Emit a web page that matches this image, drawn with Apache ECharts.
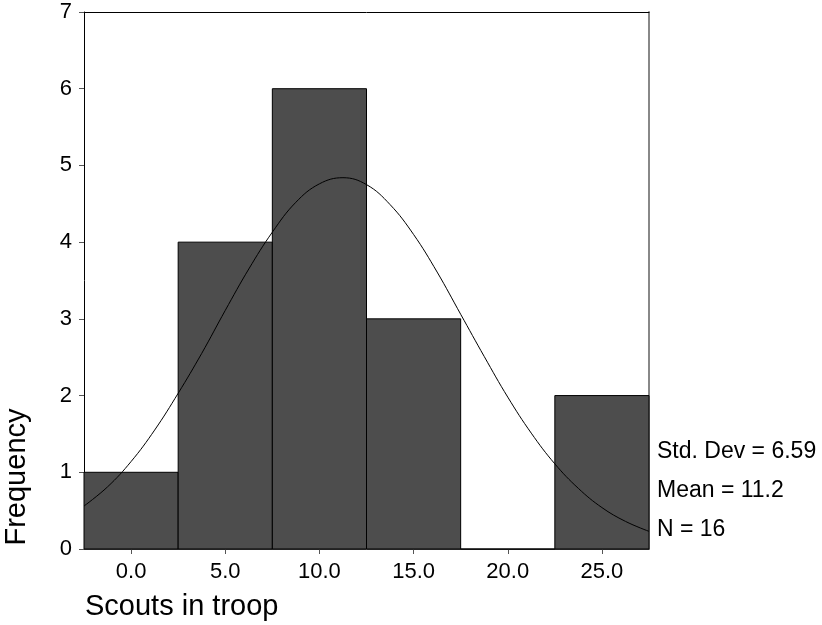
<!DOCTYPE html>
<html>
<head>
<meta charset="utf-8">
<script src="https://cdn.jsdelivr.net/npm/echarts@6/dist/echarts.min.js"></script>
<style>
  html, body { margin: 0; padding: 0; background: #fff; }
  #chart { width: 822px; height: 625px; }
</style>
</head>
<body>
<div id="chart"></div>
<script>
// histogram bins (lower edge, upper edge) and counts
var binLow = [-2.5, 2.5, 7.5, 12.5, 17.5, 22.5];
var binHigh = [2.5, 7.5, 12.5, 17.5, 22.5, 27.5];
var counts = [1, 4, 6, 3, 0, 2];
var xTicks = [0, 5, 10, 15, 20, 25];

// normal curve
var curveX = [-2.5, -1.25, 0, 1.25, 2.5, 3.75, 5, 6.25, 7.5, 8.75, 10, 11.25, 12.5, 13.75,
              15, 16.25, 17.5, 18.75, 20, 21.25, 22.5, 23.75, 25, 26.25, 27.5];
var curveY = [0.56, 0.81, 1.14, 1.55, 2.03, 2.55, 3.11, 3.65, 4.13, 4.52, 4.76, 4.84, 4.75, 4.49,
              4.10, 3.61, 3.06, 2.51, 1.98, 1.51, 1.11, 0.79, 0.54, 0.36, 0.23];

var stats = ['Std. Dev = 6.59', 'Mean = 11.2', 'N = 16'];

var font = 'Liberation Sans, Arial, sans-serif';

(function () {
    var myChart = echarts.init(document.getElementById('chart'));

    var barData = binLow.map(function (lo, i) { return [lo, binHigh[i], counts[i]]; });
    var lineData = curveX.map(function (x, i) { return [x, curveY[i]]; });

    var option = {
        animation: false,
        grid: { left: 84, top: 12, width: 565, height: 537 },
        xAxis: [
            {
                type: 'value', min: -2.5, max: 27.5,
                splitLine: { show: false },
                axisLine: { onZero: false, lineStyle: { color: '#444', width: 1 } },
                axisTick: { customValues: xTicks, length: 5, lineStyle: { color: '#555' } },
                axisLabel: {
                    customValues: xTicks, margin: 12,
                    color: '#000', fontSize: 22, fontFamily: font,
                    formatter: function (v) { return v.toFixed(1); }
                }
            },
            {
                type: 'value', position: 'top', min: -2.5, max: 27.5,
                splitLine: { show: false },
                axisLine: { show: true, onZero: false, lineStyle: { color: '#000', width: 1 } },
                axisTick: { show: false }, axisLabel: { show: false }
            }
        ],
        yAxis: [
            {
                type: 'value', min: 0, max: 7, interval: 1,
                splitLine: { show: false },
                axisLine: { show: true, onZero: false, lineStyle: { color: '#000', width: 1 } },
                axisTick: { show: true, length: 5, lineStyle: { color: '#555' } },
                axisLabel: { margin: 12, color: '#000', fontSize: 22, fontFamily: font }
            },
            {
                type: 'value', position: 'right', min: 0, max: 7,
                splitLine: { show: false },
                axisLine: { show: true, onZero: false, lineStyle: { color: '#888', width: 2 } },
                axisTick: { show: false }, axisLabel: { show: false }
            }
        ],
        graphic: [
            {
                type: 'text', x: 85, y: 607,
                style: { text: 'Scouts in troop', fontSize: 29, fontFamily: font, fill: '#000',
                         align: 'left', verticalAlign: 'middle' }
            },
            {
                type: 'text', x: 17, y: 477, rotation: Math.PI / 2,
                style: { text: 'Frequency', fontSize: 29, fontFamily: font, fill: '#000',
                         align: 'center', verticalAlign: 'middle' }
            }
        ].concat(stats.map(function (s, i) {
            return {
                type: 'text', x: 657, y: 452 + i * 39,
                style: { text: s, fontSize: 23, fontFamily: font, fill: '#000',
                         align: 'left', verticalAlign: 'middle' }
            };
        })),
        series: [
            {
                type: 'custom',
                renderItem: function (params, api) {
                    var p0 = api.coord([api.value(0), api.value(2)]);
                    var p1 = api.coord([api.value(1), 0]);
                    return {
                        type: 'rect',
                        shape: { x: p0[0], y: p0[1], width: p1[0] - p0[0], height: p1[1] - p0[1] },
                        style: { fill: '#4d4d4d', stroke: '#000', lineWidth: 1 }
                    };
                },
                encode: { x: [0, 1], y: 2 },
                data: barData
            },
            {
                type: 'line',
                smooth: 0.4,
                showSymbol: false,
                lineStyle: { color: '#000', width: 1 },
                data: lineData,
                z: 5
            }
        ]
    };

    myChart.setOption(option);
    window.addEventListener('resize', function () {
        myChart.resize();
    });
})();
</script>
</body>
</html>
